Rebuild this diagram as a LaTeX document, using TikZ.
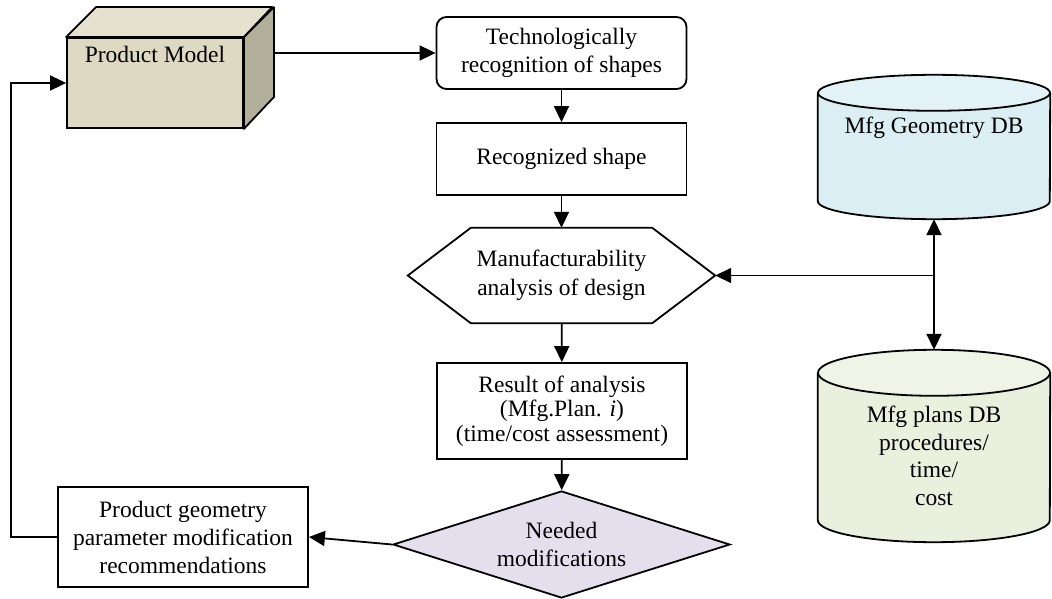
\documentclass[tikz,border=0pt]{standalone}
\usepackage{fontspec}
\setmainfont{Liberation Serif}
\usepackage{tikz}
\usetikzlibrary{arrows.meta,positioning,calc,shapes.geometric}

\definecolor{cubefront}{HTML}{DDD9C3}
\definecolor{cubetop}{HTML}{E4E1CF}
\definecolor{cubeside}{HTML}{B2AF9B}
\definecolor{geobody}{HTML}{DAEEF3}
\definecolor{geotop}{HTML}{E3F2F6}
\definecolor{plansbody}{HTML}{E9F0DD}
\definecolor{planstop}{HTML}{EFF4E6}
\definecolor{needfill}{HTML}{E4DFEC}

\begin{document}
\begin{tikzpicture}[x=1pt, y=-1pt, font=\fontsize{23.5}{27}\selectfont,
    outline/.style={draw, line width=1.8pt},
    box/.style={outline, minimum width=250pt, align=center, inner sep=2pt},
    flow/.style={-{Triangle[length=16pt,width=15pt]}, line width=1.8pt}]
	\useasboundingbox (0,0) rectangle (1052,599);

	% Product model block
	\node[outline, fill=cubefront, minimum width=176pt, minimum height=90pt] (model) at (155,83) {};
	\draw[outline, fill=cubetop, line join=round] (model.north west) -- ++(30,-30) -- ++(176,0) -- (model.north east) -- cycle;
	\draw[outline, fill=cubeside, line join=round] (model.north east) -- ++(30,-30) -- ++(0,90) -- (model.south east) -- cycle;
	\coordinate (modelback) at ($(model.north east)+(30,-30)$);
	\node[anchor=base] (modeltext) at ($(model.north)+(0,25)$) {Product Model};

	% Main chain
	\node[box, rounded corners=10pt, minimum height=72pt, font=\fontsize{23.5}{28}\selectfont] (tech) at (561.5,53) {Technologically\\recognition of shapes};
	\node[box, minimum height=72pt] (shape) at (561.5,159) {Recognized shape};
	\node[minimum width=307pt, minimum height=95pt, align=center, font=\fontsize{23.5}{29}\selectfont] (analysis) at (561.5,275.5) {Manufacturability\\analysis of design};
	\draw[outline] (analysis.west) -- ($(analysis.north west)+(63,0)$) -- ($(analysis.north east)+(-63,0)$)
		-- (analysis.east) -- ($(analysis.south east)+(-63,0)$) -- ($(analysis.south west)+(63,0)$) -- cycle;
	\node[box, minimum height=96pt, font=\fontsize{23.5}{24.5}\selectfont] (result) at (562,411) {Result of analysis\\(Mfg.Plan. \textit{i})\\(time/cost assessment)};
	\node[diamond, outline, fill=needfill, minimum width=337pt, minimum height=107pt, aspect=3.15, inner sep=0pt, align=center, font=\fontsize{23.5}{28}\selectfont] (needed) at (561.5,544.5) {Needed\\modifications};
	\node[box, minimum height=100pt, font=\fontsize{23.5}{28}\selectfont] (recom) at (183,537) {Product geometry\\parameter modification\\recommendations};

	% Databases
	\node[minimum width=232pt, minimum height=144pt] (geodb) at (934,147) {};
	\fill[geobody] ($(geodb.north west)+(0,18)$) -- ($(geodb.south west)+(0,-18)$) arc[start angle=180, end angle=0, x radius=116, y radius=18] -- ($(geodb.north east)+(0,18)$) -- cycle;
	\draw[line width=1.8pt] ($(geodb.north west)+(0,18)$) -- ($(geodb.south west)+(0,-18)$) arc[start angle=180, end angle=0, x radius=116, y radius=18] -- ($(geodb.north east)+(0,18)$);
	\draw[outline, fill=geotop] ($(geodb.north)+(0,18)$) ellipse[x radius=116, y radius=18];
	\node (geotext) at ($(geodb.north)+(0,53)$) {Mfg Geometry DB};

	\node[minimum width=232pt, minimum height=192pt] (plansdb) at (934,446) {};
	\fill[plansbody] ($(plansdb.north west)+(0,23)$) -- ($(plansdb.south west)+(0,-22)$) arc[start angle=180, end angle=0, x radius=116, y radius=22] -- ($(plansdb.north east)+(0,23)$) -- cycle;
	\draw[line width=1.8pt] ($(plansdb.north west)+(0,23)$) -- ($(plansdb.south west)+(0,-22)$) arc[start angle=180, end angle=0, x radius=116, y radius=22] -- ($(plansdb.north east)+(0,23)$);
	\draw[outline, fill=planstop] ($(plansdb.north)+(0,23)$) ellipse[x radius=116, y radius=23];
	\node[align=center, font=\fontsize{23.5}{27.5}\selectfont] (planstext) at (934,456) {Mfg plans DB\\procedures/\\time/\\cost};

	% Connectors
	\draw[flow] (modelback |- tech.west) -- (tech.west);
	\draw[flow] (tech) -- (shape);
	\draw[flow] (shape) -- (analysis);
	\draw[flow] (analysis) -- (result);
	\draw[flow] (result) -- (needed);
	\draw[flow] (needed.west) -- (recom.east);
	\draw[flow] (recom.west) -- ++(-46,0) |- (model.west);

	\coordinate (split) at (geodb.south |- analysis.east);
	\draw[flow] (split) -- (analysis.east);
	\draw[flow] (split) -- (geodb.south);
	\draw[flow] (split) -- (plansdb.north);
\end{tikzpicture}
\end{document}
